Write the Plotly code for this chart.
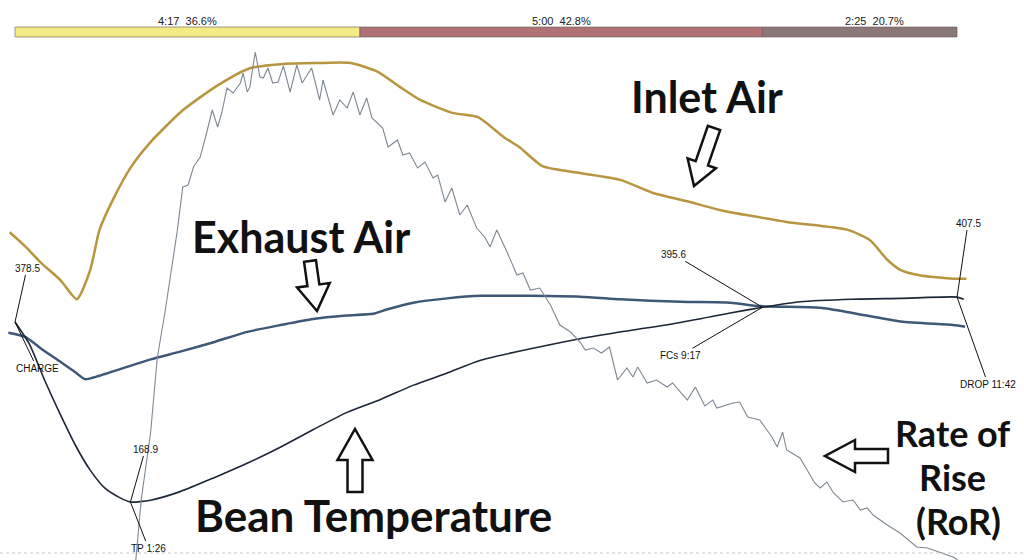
import plotly.graph_objects as go

# roast events (seconds, deg F)
charge_t, charge_bt = 0, 378.5
tp_t, tp_bt = 86, 168.9
fcs_t, fcs_bt = 557, 395.6
drop_t, drop_bt = 702, 407.5

# roast phases: drying, maillard, development
phase_secs = [257, 300, 145]
phase_labels = ["4:17  36.6%", "5:00  42.8%", "2:25  20.7%"]
phase_colors = ["#f3ec84", "#b07275", "#8b7777"]

# bean temperature
bt_t = [0, 11, 22, 34, 45, 56, 67, 78, 86, 101, 123, 148, 173, 198, 222, 247, 272,
        297, 322, 347, 421, 496, 533, 557, 585, 624, 660, 702, 707]
bt = [378.5, 352, 311, 270, 235, 206, 185, 174, 168.9, 171, 181, 197, 214, 233, 253,
      273, 288, 305, 319, 334, 359, 378, 389, 395.6, 402, 405, 406, 407.5, 405]

# exhaust air
et_t = [-5, 8, 19, 34, 45, 52, 63, 101, 123, 148, 173, 198, 222, 247, 267, 277, 297,
        322, 347, 421, 451, 496, 533, 555, 600, 624, 660, 699, 708]
et = [366, 361, 348, 332, 320, 312, 316, 335, 344, 355, 367, 375, 382, 386, 388, 393,
      401, 406, 409, 408, 405, 402, 401, 397, 395, 389, 379, 375, 373]

# inlet air
inlet_t = [-4, 8, 19, 34, 46, 56, 63, 73, 86, 101, 125, 151, 175, 200, 225, 250, 270,
           287, 302, 326, 345, 364, 376, 393, 421, 451, 475, 501, 525, 575, 620, 637,
           650, 660, 674, 699, 709]
inlet = [483, 466, 448, 427, 405, 439, 486, 521, 558, 588, 625, 654, 674, 679, 680,
         680, 670, 652, 637, 622, 617, 594, 582, 560, 552, 544, 529, 519, 509, 495,
         486, 474, 451, 439, 433, 429, 429]

# rate of rise (deg/min)
ror_t = [90, 94, 101, 106, 112, 117, 121, 125, 129, 133, 138, 142, 147, 151, 154, 158,
         162.5, 168, 170, 173, 175, 179, 182.5, 185, 188.5, 192, 196, 200, 205, 210,
         214, 221, 227, 229.5, 237, 242, 247.5, 252, 257, 262, 266, 274, 278, 285, 289,
         294, 300, 305.5, 311.5, 315, 320.5, 325.5, 331.5, 337, 344, 350, 354, 359,
         367, 374, 378.5, 384, 391, 399, 406, 414, 421, 425, 431, 437, 443, 449, 456,
         460.5, 464, 471, 478, 486, 490, 501, 507, 514, 520, 523, 535, 540, 546, 555,
         564, 568, 572, 575, 585, 596, 600, 605, 610, 617, 624.5, 630, 635, 639.5,
         650, 659.5, 667, 672, 680, 684, 691.5, 699, 702.5]
ror = [-0.35, 2.65, 6.0, 9.75, 12.15, 14.25, 16.15, 18.3, 18.4, 19.3, 19.8, 20.8, 22.15,
       21.3, 22.0, 23.25, 23.0, 23.5, 24.0, 23.05, 23.3, 25.05, 23.8, 23.75, 24.25,
       23.5, 23.55, 24.35, 23.05, 24.4, 23.5, 24.25, 22.65, 23.65, 21.9, 22.65, 22.25,
       23.05, 21.9, 22.75, 21.75, 21.25, 20.3, 20.65, 19.9, 20.0, 19.25, 19.55, 18.75,
       18.9, 17.55, 18.25, 16.9, 17.4, 16.25, 15.8, 15.3, 16.15, 15.0, 13.9, 14.0,
       13.15, 13.25, 12.4, 11.4, 11.05, 10.55, 10.15, 10.25, 10.0, 10.3, 8.65, 9.25,
       8.8, 9.3, 8.5, 8.65, 8.3, 8.5, 7.65, 8.3, 7.35, 7.65, 7.25, 7.5, 7.55, 6.8, 6.65,
       5.8, 5.3, 6.05, 5.15, 4.75, 3.5, 3.25, 3.55, 3.0, 2.55, 2.65, 2.15, 2.25, 1.9,
       1.4, 1.0, 0.55, 0.3, 0.25, 0.15, 0.0, -0.2, -0.35]

W, H = 1024, 560


def px_to_paper(x, y):
    """Converts a pixel position on the page to paper coordinates."""
    return x / W, 1 - y / H


def block_arrow(tail, tip, shaft_w, head_w, head_len):
    """Builds an SVG path for a hollow block arrow (used for the callouts)."""
    dx, dy = tip[0] - tail[0], tip[1] - tail[1]
    length = (dx ** 2 + dy ** 2) ** 0.5
    ux, uy = dx / length, dy / length
    nx, ny = -uy, ux
    neck = (tip[0] - ux * head_len, tip[1] - uy * head_len)
    pts = [
        (tail[0] + nx * shaft_w / 2, tail[1] + ny * shaft_w / 2),
        (neck[0] + nx * shaft_w / 2, neck[1] + ny * shaft_w / 2),
        (neck[0] + nx * head_w / 2, neck[1] + ny * head_w / 2),
        tip,
        (neck[0] - nx * head_w / 2, neck[1] - ny * head_w / 2),
        (neck[0] - nx * shaft_w / 2, neck[1] - ny * shaft_w / 2),
        (tail[0] - nx * shaft_w / 2, tail[1] - ny * shaft_w / 2),
    ]
    pts = [px_to_paper(*p) for p in pts]
    return "M " + " L ".join(f"{x:.5f},{y:.5f}" for x, y in pts) + " Z"


fig = go.Figure()

fig.add_trace(go.Scatter(x=inlet_t, y=inlet, mode="lines", name="Inlet Air",
                         line=dict(color="#b8953f", width=2.5, shape="spline", smoothing=0.6)))
fig.add_trace(go.Scatter(x=et_t, y=et, mode="lines", name="Exhaust Air",
                         line=dict(color="#3e5877", width=2.5, shape="spline", smoothing=0.6)))
fig.add_trace(go.Scatter(x=bt_t, y=bt, mode="lines", name="Bean Temperature",
                         line=dict(color="#1b2636", width=1.6, shape="spline", smoothing=0.6)))
fig.add_trace(go.Scatter(x=ror_t, y=ror, mode="lines", name="RoR", yaxis="y2",
                         line=dict(color="#7d8894", width=1.1)))

# phase bar across the top
shapes = []
annotations = []
start = 0
for secs, label, colour in zip(phase_secs, phase_labels, phase_colors):
    shapes.append(dict(type="rect", xref="x", yref="paper", x0=start, x1=start + secs,
                       y0=1 - 37 / H, y1=1 - 27 / H, fillcolor=colour,
                       line=dict(color="#6a5a5a", width=0.6)))
    annotations.append(dict(x=start + secs / 2, y=1 - 13 / H, xref="x", yref="paper",
                            text=label, showarrow=False,
                            xshift=15 if secs == phase_secs[-1] else 0,
                            font=dict(family="Liberation Sans", size=11, color="#222")))
    start += secs

# baseline
shapes.append(dict(type="line", xref="paper", yref="y2", x0=0, x1=1, y0=0, y1=0,
                   line=dict(color="#c8c8c8", width=1, dash="dot")))

# event labels
events = [
    (charge_t, charge_bt, f"{charge_bt}", 12, -54),
    (charge_t, charge_bt, "CHARGE", 22, 46),
    (tp_t, tp_bt, f"{tp_bt}", 15, -53),
    (tp_t, tp_bt, "TP 1:26", 18, 46),
    (fcs_t, fcs_bt, f"{fcs_bt}", -89, -53),
    (fcs_t, fcs_bt, "FCs 9:17", -82, 48),
    (drop_t, drop_bt, f"{drop_bt}", 11, -74),
    (drop_t, drop_bt, "DROP 11:42", 31, 87),
]
for x, y, text, ax, ay in events:
    annotations.append(dict(x=x, y=y, xref="x", yref="y", text=text, showarrow=True,
                            arrowhead=0, arrowwidth=1, arrowcolor="#111", ax=ax, ay=ay,
                            font=dict(family="Liberation Sans", size=10, color="#111")))

# big callout labels
callouts = [
    ("Inlet Air", 707, 96, 43),
    ("Exhaust Air", 301, 236, 43),
    ("Bean Temperature", 373, 515, 44),
    ("Rate of", 952, 433, 36),
    ("Rise", 952, 477, 36),
    ("(RoR)", 958, 521, 36),
]
for text, cx, cy, size in callouts:
    px, py = px_to_paper(cx, cy)
    annotations.append(dict(x=px, y=py, xref="paper", yref="paper", text=text,
                            showarrow=False, xanchor="center", yanchor="middle",
                            font=dict(family="Lato", size=size, color="#111",
                                      weight="bold")))

# hollow arrows
arrows = [
    ((714, 128), (694, 186), 13, 30, 24),
    ((310, 261), (317, 311), 12, 33, 26),
    ((355, 492), (355, 429), 15, 35, 31),
    ((888, 456), (825, 456), 14, 32, 30),
]
for tail, tip, sw, hw, hl in arrows:
    shapes.append(dict(type="path", xref="paper", yref="paper",
                       path=block_arrow(tail, tip, sw, hw, hl),
                       fillcolor="white", line=dict(color="#111", width=2.5)))

fig.update_layout(
    width=W,
    height=H,
    margin=dict(l=0, r=0, t=0, b=0),
    paper_bgcolor="white",
    plot_bgcolor="white",
    showlegend=False,
    xaxis=dict(range=[-11.2, 751.9], visible=False),
    yaxis=dict(range=[101.4, 753.4], visible=False),
    yaxis2=dict(range=[-0.35, 27.65], overlaying="y", visible=False),
    shapes=shapes,
    annotations=annotations,
)

fig.write_html("out.html", config={"displayModeBar": False},
               post_script="document.body.style.margin='0';")
